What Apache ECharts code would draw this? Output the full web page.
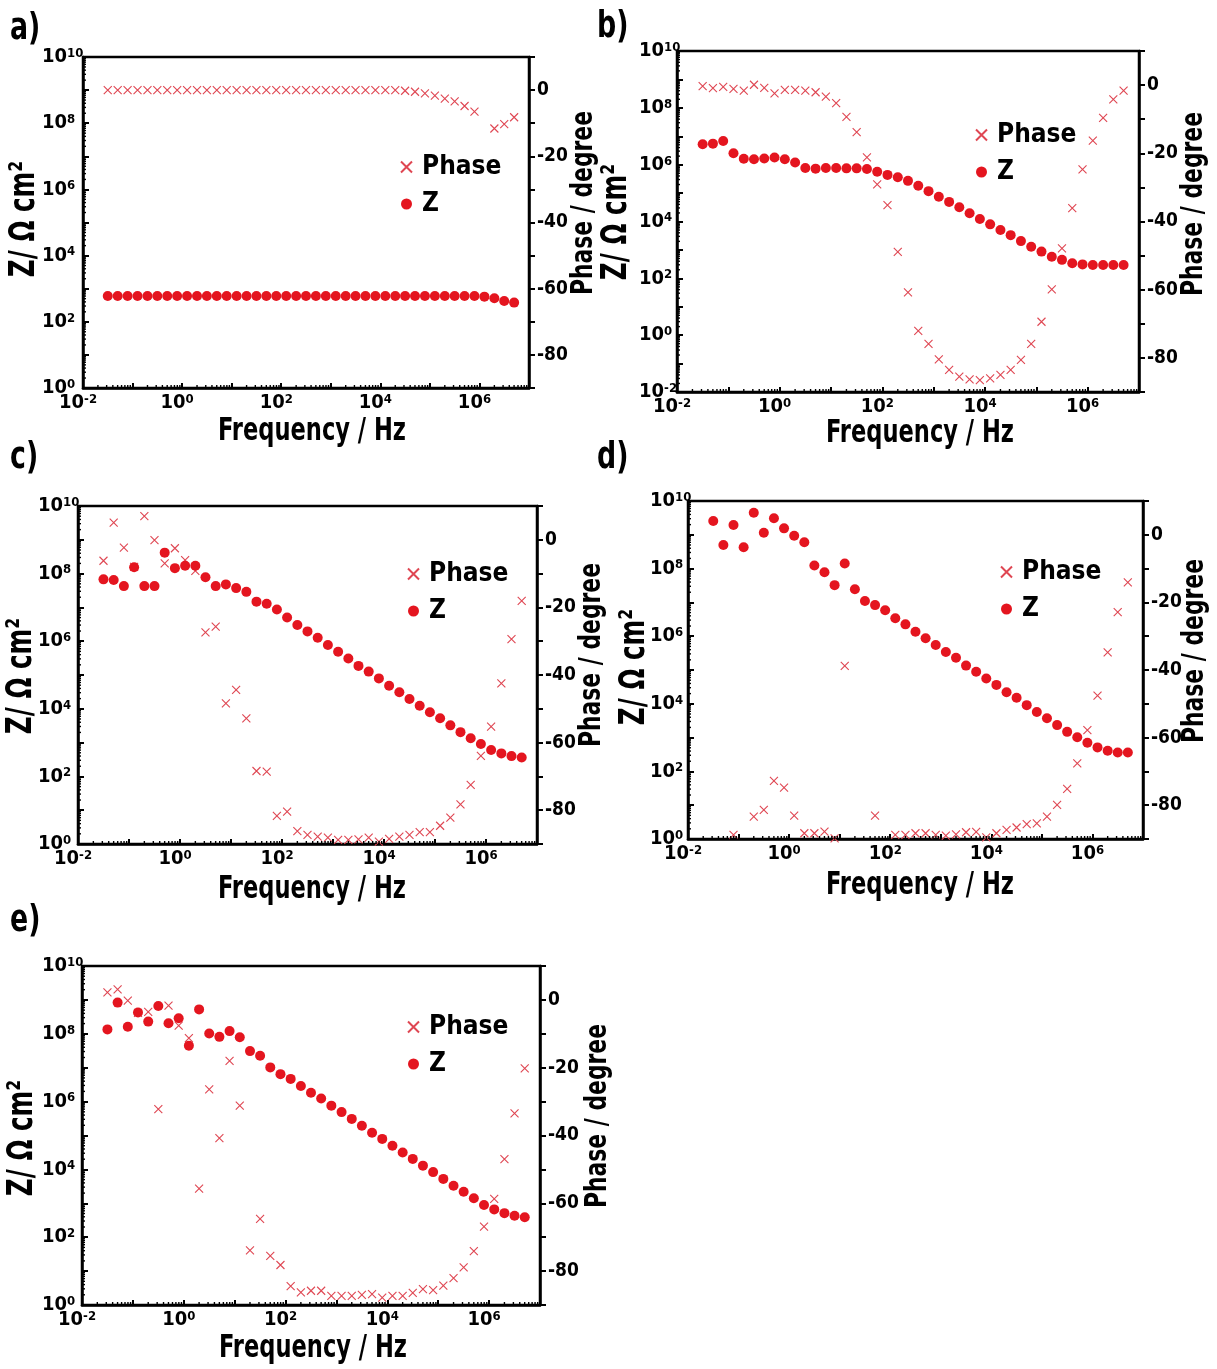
<!DOCTYPE html>
<html>
<head>
<meta charset="utf-8">
<script src="https://cdn.jsdelivr.net/npm/echarts@6/dist/echarts.min.js"></script>
<style>
  html, body { margin: 0; padding: 0; background: #ffffff; }
  #chart { width: 1217px; height: 1369px; }
</style>
</head>
<body>
<div id="chart"></div>
<script>
// Frequency sweep shared by all five samples (Hz), five points per decade
const freq = [0.0316, 0.0501, 0.0794, 0.126, 0.2, 0.316, 0.501, 0.794, 1.26, 2.0,
  3.16, 5.01, 7.94, 12.6, 20, 31.6, 50.1, 79.4, 126, 200,
  316, 501, 794, 1260, 2000, 3160, 5010, 7940, 12600, 20000,
  31600, 50100, 79400, 126000, 200000, 316000, 501000, 794000, 1260000, 2000000,
  3160000, 5010000];

// |Z| in Ohm cm^2 and phase in degrees for each sample (null = point not recorded)
const zA = [600, 600, 600, 600, 600, 600, 600, 600, 600, 600,
  600, 600, 600, 600, 600, 600, 600, 600, 600, 600,
  600, 600, 600, 600, 600, 600, 600, 600, 600, 600,
  600, 600, 600, 600, 600, 600, 600, 600, 575, 513,
  427, 380];
const phaseA = [0, 0, 0, 0, 0, 0, 0, 0, 0, 0,
  0, 0, 0, 0, 0, 0, 0, 0, 0, 0,
  0, 0, 0, 0, 0, 0, 0, 0, 0, 0,
  -0.2, -0.5, -1.0, -1.7, -2.6, -3.4, -4.8, -6.5, null, -11.6,
  -10.3, -8.2];

const zB = [5.25e6, 5.5e6, 6.76e6, 2.51e6, 1.62e6, 1.55e6, 1.66e6, 1.78e6, 1.55e6, 1.2e6,
  7.59e5, 7.24e5, 7.59e5, 7.59e5, 7.41e5, 7.41e5, 7.08e5, 5.62e5, 4.37e5, 3.63e5,
  2.69e5, 1.82e5, 1.17e5, 7.41e4, 4.9e4, 3.16e4, 1.95e4, 1.23e4, 7940, 5010,
  3310, 2040, 1290, 871, 575, 447, 339, 309, 295, 295,
  295, 295];
const phaseB = [-0.3, -0.9, -0.5, -1.1, -1.6, 0.1, -0.8, -2.4, -1.4, -1.4,
  -1.6, -2.1, -3.4, -5.3, -9.3, -13.8, -21.2, -29.1, -35.2, -48.9,
  -60.8, -72.1, -75.9, -80.4, -83.5, -85.5, -86.3, -86.5, -86.0, -85.0,
  -83.5, -80.6, -75.9, -69.4, -59.9, -47.9, -36.1, -24.7, -16.3, -9.6,
  -4.2, -1.6];

const zC = [6.76e7, 6.46e7, 4.27e7, 1.55e8, 4.27e7, 4.27e7, 4.17e8, 1.45e8, 1.7e8, 1.7e8,
  7.76e7, 4.27e7, 4.79e7, 3.72e7, 2.88e7, 1.48e7, 1.29e7, 8.71e6, 5.01e6, 3.02e6,
  1.95e6, 1.26e6, 7.76e5, 4.9e5, 3.09e5, 1.86e5, 1.26e5, 7.94e4, 4.79e4, 3.09e4,
  1.95e4, 1.23e4, 7940, 5250, 3240, 2040, 1350, 912, 603, 479,
  398, 363];
const phaseC = [-6.2, 5.1, -2.3, -8.0, 7.0, -0.1, -7.0, -2.5, -6.0, -9.2,
  -27.4, -25.7, -48.4, -44.4, -52.8, -68.4, -68.6, -81.7, -80.4, -86.2,
  -87.3, -87.8, -88.1, -88.8, -88.8, -88.6, -88.1, -89.3, -88.5, -87.8,
  -87.3, -86.5, -86.5, -84.6, -82.2, -78.3, -72.5, -63.9, -55.3, -42.5,
  -29.4, -18.1];

const zD = [2.57e9, 5.01e8, 1.95e9, 4.27e8, 4.47e9, 1.15e9, 3.09e9, 1.55e9, 9.33e8, 6.03e8,
  1.23e8, 7.76e7, 3.24e7, 1.41e8, 2.45e7, 1.1e7, 8.32e6, 5.89e6, 3.39e6, 2.24e6,
  1.35e6, 8.71e5, 5.5e5, 3.39e5, 2.29e5, 1.35e5, 8.91e4, 5.62e4, 3.63e4, 2.19e4,
  1.51e4, 9120, 5750, 3720, 2340, 1480, 1020, 708, 513, 407,
  363, 363];
const phaseD = [null, null, -88.8, null, -83.4, -81.4, -72.8, -74.8, -83.1, -88.3,
  -88.3, -87.8, -89.8, -38.8, null, null, -83.1, null, -88.8, -88.8,
  -88.3, -88.3, -88.8, -89.0, -88.6, -88.0, -87.9, -89.5, -88.3, -87.3,
  -86.6, -85.6, -85.4, -83.4, -79.9, -75.2, -67.6, -57.8, -47.6, -34.8,
  -22.9, -14.1];

const zE = [1.35e8, 8.32e8, 1.62e8, 4.27e8, 2.29e8, 6.61e8, 2.04e8, 2.88e8, 4.47e7, 5.25e8,
  1.02e8, 8.13e7, 1.2e8, 7.94e7, 3.09e7, 2.24e7, 1.02e7, 6.46e6, 4.68e6, 2.88e6,
  1.82e6, 1.23e6, 7.59e5, 4.9e5, 3.09e5, 1.95e5, 1.2e5, 7.94e4, 5.01e4, 3.16e4,
  2.04e4, 1.29e4, 8320, 5250, 3310, 2190, 1410, 891, 661, 513,
  427, 389];
const phaseE = [2.2, 3.1, -0.2, -3.8, -3.5, -32.2, -1.7, -7.6, -11.3, -55.7,
  -26.4, -40.8, -18.0, -31.2, -73.9, -64.6, -75.5, -78.2, -84.4, -86.3,
  -85.8, -85.8, -87.3, -87.3, -87.3, -87.0, -86.8, -87.8, -87.3, -87.3,
  -86.4, -85.3, -85.6, -84.3, -82.1, -78.9, -74.1, -66.9, -58.7, -47.0,
  -33.5, -20.2];

// Axis ranges (decades of frequency / impedance, degrees of phase)
const freqDecades = [-2, 7];
const phaseRange = [-90, 10];

// Pick a narrow bold face if one is installed; otherwise fall back to Liberation Sans
const probe = document.createElement('canvas').getContext('2d');
function widthOf(font, text) { probe.font = font; return probe.measureText(text || 'Frequency / Hz 0123456789').width; }
let FAMILY = '"Liberation Sans", sans-serif';
let WEIGHT = 'bold';
(function chooseFont() {
  const base = widthOf('bold 40px monospace');
  const narrow = ['Liberation Sans Narrow', 'Arial Narrow', 'Noto Sans Condensed', 'DejaVu Sans Condensed', 'Open Sans Condensed'];
  for (const name of narrow) {
    if (Math.abs(widthOf('bold 40px "' + name + '", monospace') - base) > 0.5) {
      FAMILY = '"' + name + '", sans-serif';
      return;
    }
  }
  const wide = widthOf('bold 40px "Noto Sans", monospace');
  const cond = widthOf('bold condensed 40px "Noto Sans", monospace');
  if (cond < wide - 1) { FAMILY = '"Noto Sans", sans-serif'; WEIGHT = 'bold condensed'; }
})();
// Horizontal squeeze for the large titles so they keep their narrow proportions
const TITLE_SCALE = Math.min(1, 188 / widthOf(WEIGHT + ' 32px ' + FAMILY, 'Frequency / Hz'));
const TICK_SIZE = TITLE_SCALE > 0.92 ? 22 : 20;
const LEGEND_SIZE = TITLE_SCALE > 0.92 ? 28 : 26;

const Z_COLOR = '#e4151f';
const PHASE_COLOR = '#df4652';
const CROSS = 'path://M0,0L10,10M10,0L0,10';

// Page layout of the five panels
const panels = [
  { tag: 'a)', z: zA, phase: phaseA, zDecades: [0, 10],
    grid: { left: 83, top: 57, width: 446, height: 331 },
    tagAt: [10, 29], zTitleAt: [25, 219], phaseTitleAt: [584, 203], freqTitleAt: [312, 432], legendAt: [400, 154], labelGap: 41 },
  { tag: 'b)', z: zB, phase: phaseB, zDecades: [-2, 10],
    grid: { left: 677, top: 51, width: 462, height: 341 },
    tagAt: [597, 27], zTitleAt: [617, 222], phaseTitleAt: [1194, 204], freqTitleAt: [920, 434], legendAt: [975, 122], labelGap: 38 },
  { tag: 'c)', z: zC, phase: phaseC, zDecades: [0, 10],
    grid: { left: 78, top: 506, width: 459, height: 338 },
    tagAt: [10, 458], zTitleAt: [22, 676], phaseTitleAt: [592, 655], freqTitleAt: [312, 890], legendAt: [407, 561], labelGap: 40 },
  { tag: 'd)', z: zD, phase: phaseD, zDecades: [0, 10],
    grid: { left: 688, top: 501, width: 455, height: 338 },
    tagAt: [597, 458], zTitleAt: [635, 667], phaseTitleAt: [1195, 651], freqTitleAt: [920, 886], legendAt: [1000, 559], labelGap: 38 },
  { tag: 'e)', z: zE, phase: phaseE, zDecades: [0, 10],
    grid: { left: 82, top: 966, width: 458, height: 339 },
    tagAt: [10, 921], zTitleAt: [23, 1138], phaseTitleAt: [598, 1116], freqTitleAt: [313, 1349], legendAt: [407, 1014], labelGap: 40 }
];

const AXIS_LINE = { show: true, onZero: false, lineStyle: { color: '#000', width: 2.5 } };

function powerLabel(size) {
  return {
    formatter: function (v) {
      const n = Math.round(v);
      return n % 2 === 0 ? '{b|10}{s|' + n + '}' : '';
    },
    rich: {
      b: { fontSize: size, fontWeight: WEIGHT, fontFamily: FAMILY, color: '#000' },
      s: { fontSize: 13, fontWeight: WEIGHT, fontFamily: FAMILY, color: '#000', verticalAlign: 'top' }
    }
  };
}

// log-spaced minor tick positions (2..9 within each decade)
function minorTicks(lo, hi) {
  const out = [];
  for (let n = lo; n < hi; n++) {
    for (let m = 2; m <= 9; m++) out.push(n + Math.log10(m));
  }
  return out;
}

function tickRenderer(dx, dy) {
  return function (params, api) {
    const c = api.coord([api.value(0), api.value(1)]);
    return {
      type: 'line',
      shape: { x1: c[0], y1: c[1], x2: c[0] + dx, y2: c[1] + dy },
      style: { stroke: '#000', lineWidth: 1.4 }
    };
  };
}

const grids = [], xAxes = [], yAxes = [], series = [], legends = [], graphics = [];

panels.forEach(function (p, i) {
  grids.push(Object.assign({ show: true, borderColor: '#000', borderWidth: 2.5, backgroundColor: 'transparent' }, p.grid));

  xAxes.push({
    type: 'value', gridIndex: i, min: freqDecades[0], max: freqDecades[1], interval: 1,
    axisLine: AXIS_LINE,
    axisTick: { show: true, inside: true, length: 5, lineStyle: { color: '#000', width: 2 } },
    splitLine: { show: false },
    axisLabel: Object.assign({ margin: 5, padding: [0, 10, 0, 0] }, powerLabel(TICK_SIZE))
  });

  yAxes.push({
    type: 'value', gridIndex: i, position: 'left', min: p.zDecades[0], max: p.zDecades[1], interval: 1,
    axisLine: AXIS_LINE,
    axisTick: { show: true, inside: true, length: 6, lineStyle: { color: '#000', width: 2 } },
    splitLine: { show: false },
    axisLabel: Object.assign({ margin: p.labelGap, align: 'left' }, powerLabel(TICK_SIZE))
  });

  yAxes.push({
    type: 'value', gridIndex: i, position: 'right', min: phaseRange[0], max: phaseRange[1], interval: 10,
    axisLine: AXIS_LINE,
    axisTick: { show: true, inside: false, length: 6, lineStyle: { color: '#000', width: 2 } },
    splitLine: { show: false },
    axisLabel: {
      margin: 8, align: 'left',
      fontSize: TICK_SIZE - 1, fontWeight: WEIGHT, fontFamily: FAMILY, color: '#000',
      formatter: function (v) { return (v % 20 === 0 && v <= 0 && v >= -80) ? String(v) : ''; }
    }
  });

  const phaseData = [];
  freq.forEach(function (f, k) {
    if (p.phase[k] !== null) phaseData.push([Math.log10(f), p.phase[k]]);
  });
  series.push({
    name: 'Phase', type: 'scatter', xAxisIndex: i, yAxisIndex: 2 * i + 1,
    symbol: CROSS, symbolSize: 8,
    itemStyle: { color: 'rgba(0,0,0,0)', borderColor: PHASE_COLOR, borderWidth: 1.1, opacity: 1 },
    data: phaseData, z: 2
  });

  series.push({
    name: 'Z', type: 'scatter', xAxisIndex: i, yAxisIndex: 2 * i,
    symbol: 'circle', symbolSize: 10,
    itemStyle: { color: Z_COLOR, opacity: 1 },
    data: freq.map(function (f, k) { return [Math.log10(f), Math.log10(p.z[k])]; }),
    z: 3
  });

  // minor ticks on frequency axis and impedance axis
  series.push({
    type: 'custom', xAxisIndex: i, yAxisIndex: 2 * i, silent: true, clip: false, z: 5,
    data: minorTicks(freqDecades[0], freqDecades[1]).map(function (t) { return [t, p.zDecades[0]]; }),
    renderItem: tickRenderer(0, -3)
  });
  series.push({
    type: 'custom', xAxisIndex: i, yAxisIndex: 2 * i, silent: true, clip: false, z: 5,
    data: minorTicks(p.zDecades[0], p.zDecades[1]).map(function (t) { return [freqDecades[0], t]; }),
    renderItem: tickRenderer(3, 0)
  });

  legends.push({
    left: p.legendAt[0], top: p.legendAt[1], orient: 'vertical', padding: 0,
    itemGap: 11, itemWidth: 11, itemHeight: 11, selectedMode: false,
    data: ['Phase', 'Z'],
    textStyle: { fontSize: LEGEND_SIZE, fontWeight: WEIGHT, fontFamily: FAMILY, color: '#000', padding: [0, 0, 0, 5] }
  });

  const txt = function (x, y, text, size, rot, align) {
    return {
      type: 'text', x: x, y: y, rotation: rot || 0, scaleX: TITLE_SCALE, silent: true,
      style: {
        text: text, font: WEIGHT + ' ' + size + 'px ' + FAMILY, fill: '#000',
        textAlign: align || 'center', textVerticalAlign: 'middle',
        align: align || 'center', verticalAlign: 'middle'
      }
    };
  };
  graphics.push(txt(p.tagAt[0], p.tagAt[1], p.tag, 38, 0, 'left'));
  graphics.push(txt(p.zTitleAt[0], p.zTitleAt[1], 'Z/ \u03A9 cm\u00B2', 35, Math.PI / 2));
  graphics.push(txt(p.phaseTitleAt[0], p.phaseTitleAt[1], 'Phase / degree', 31, Math.PI / 2));
  graphics.push(txt(p.freqTitleAt[0], p.freqTitleAt[1], 'Frequency / Hz', 32, 0));
});

const chart = echarts.init(document.getElementById('chart'), null, { renderer: 'canvas' });
chart.setOption({
  animation: false,
  backgroundColor: '#ffffff',
  grid: grids,
  xAxis: xAxes,
  yAxis: yAxes,
  legend: legends,
  series: series,
  graphic: graphics
});
</script>
</body>
</html>
